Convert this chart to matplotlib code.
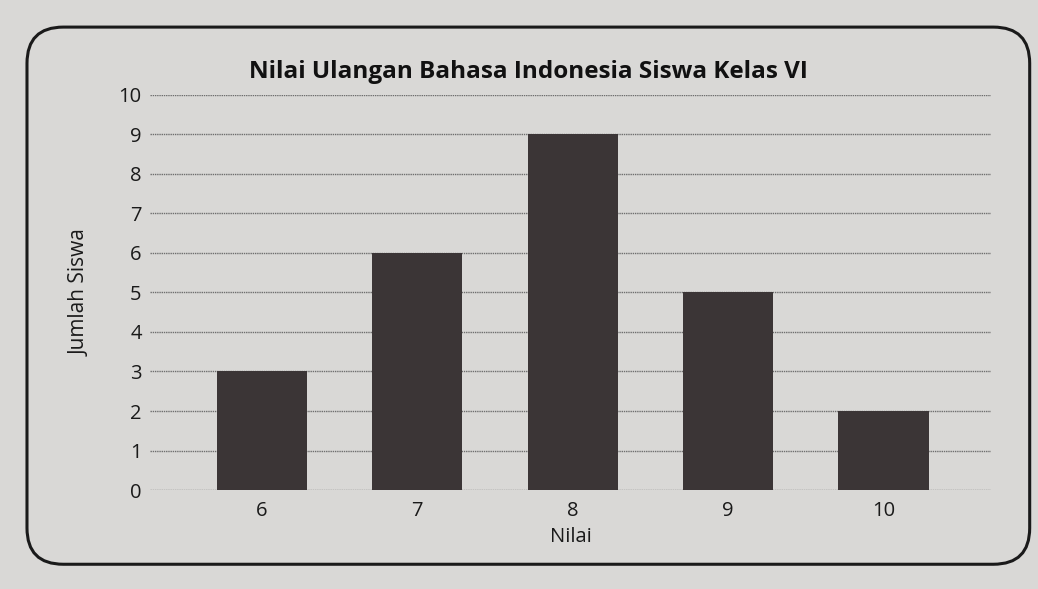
import matplotlib
matplotlib.use("Agg")
import matplotlib.pyplot as plt
from matplotlib.patches import FancyBboxPatch

# data
nilai = ["6", "7", "8", "9", "10"]
jumlah_siswa = [3, 6, 9, 5, 2]
y_ticks = list(range(0, 11))

plt.rcParams['font.family'] = ['Open Sans', 'DejaVu Sans']

fig = plt.figure(figsize=(10.38, 5.89), dpi=100, facecolor='#d9d8d6')
ax = fig.add_axes([0.1445, 0.168, 0.81, 0.671])
ax.set_facecolor('none')

# rounded frame around the chart
frame = FancyBboxPatch((0.026, 0.042), 0.966, 0.912,
                       boxstyle="round,pad=0,rounding_size=0.035",
                       transform=fig.transFigure, fill=False,
                       edgecolor='#1a1a1a', linewidth=2.2, mutation_aspect=1.76)
fig.patches.append(frame)

x = range(len(nilai))
ax.bar(x, jumlah_siswa, width=0.58, color='#3b3536', zorder=3)

ax.set_ylim(0, 10)
ax.set_xlim(-0.72, 4.69)
ax.set_yticks(y_ticks)
ax.set_xticks(list(x))
ax.set_xticklabels(nilai)
ax.yaxis.grid(True, color='#6e6e6e', linewidth=1.0, linestyle=(0, (1, 0.6)), zorder=0)
ax.tick_params(axis='both', length=0, labelsize=14.5, colors='#1a1a1a')
ax.tick_params(axis='x', pad=8)
ax.tick_params(axis='y', pad=6)
for s in ax.spines.values():
    s.set_visible(False)

ax.set_xlabel("Nilai", fontsize=14.5, color='#1a1a1a', labelpad=4)
ax.set_ylabel("Jumlah Siswa", fontsize=15, color='#1a1a1a', labelpad=20)
fig.text(0.509, 0.877, "Nilai Ulangan Bahasa Indonesia Siswa Kelas VI",
         ha='center', va='center', fontsize=17.5, fontweight='bold', color='#111111')

fig.savefig("out.png", dpi=100, facecolor=fig.get_facecolor())
